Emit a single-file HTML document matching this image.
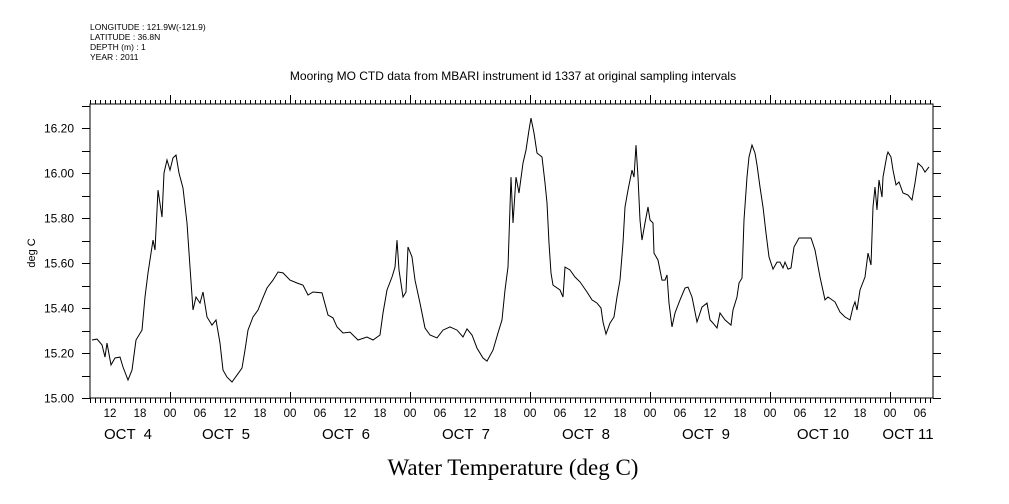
<!DOCTYPE html>
<html><head><meta charset="utf-8">
<style>
html,body{margin:0;padding:0;background:#fff;}
svg{display:block;}
text{font-family:"Liberation Sans",sans-serif;fill:#000;}
</style></head>
<body>
<svg id="chart" width="1009" height="504" viewBox="0 0 1009 504" xmlns="http://www.w3.org/2000/svg">
<g font-size="8.5">
<text x="90" y="30">LONGITUDE : 121.9W(-121.9)</text>
<text x="90" y="40">LATITUDE : 36.8N</text>
<text x="90" y="50">DEPTH (m) : 1</text>
<text x="90" y="60">YEAR : 2011</text>
</g>
<text x="513" y="80" text-anchor="middle" font-size="12">Mooring MO CTD data from MBARI instrument id 1337 at original sampling intervals</text>
<text transform="translate(35,253) rotate(-90)" text-anchor="middle" font-size="11">deg C</text>
<text x="513" y="475" text-anchor="middle" font-size="23" style="font-family:'Liberation Serif',serif">Water Temperature (deg C)</text>
<g id="axes"></g>
<g id="series"></g>
</svg>
<script>
const hours=[-15.6,-14.6,-13.6,-13,-12.6,-11.8,-11,-10,-9.4,-8.4,-7.6,-6.8,-5.6,-5,-4.4,-3.4,-3,-2.4,-1.6,-1.2,-0.6,0,0.6,1.2,1.8,2.6,3.4,4,4.6,5.2,6,6.6,7.4,8.4,9.2,10,10.6,11.4,12.4,13.4,14.4,15,15.6,16.6,17.6,18.4,19.4,20.6,21.6,22.6,24,25.4,26.6,27.6,28.6,30.4,31.6,32.6,33.4,34.6,36,37.6,39.4,40.6,42,42.6,43.4,44.4,45,45.4,45.8,46.6,47.2,47.6,48.4,49,50,51,52,53.4,54.6,56,57.4,58.6,59.4,60.4,61.4,62.6,63.4,64.6,65.6,66.4,67,67.6,68.2,68.6,69.2,69.8,70.6,71.2,71.8,72.2,72.8,73.4,74.4,75,75.4,75.8,76.2,76.6,78,78.6,79,80,81,82,83.4,84.4,85.4,86.2,86.6,87.2,88,88.8,89.4,90,90.6,91,91.6,92.4,92.8,93.2,93.6,94,94.4,95,95.6,96,96.6,96.8,97.6,98.4,99,99.4,99.8,100.4,101,102,103,103.6,104.4,105.4,106.4,107.4,108,108.6,109.4,110,111,112.2,112.6,113.4,113.8,114.4,114.8,115.4,115.8,116.4,117,117.4,118,118.6,119.2,119.8,120.6,121.4,122,122.6,123,123.6,124.2,124.8,125.8,127.4,128.2,129,130,131,131.6,133,134,135,136,136.6,137,137.4,138,139,139.6,140.2,140.6,141,141.4,141.8,142.4,142.6,143.4,143.6,144.2,144.6,145.2,145.8,146.6,147.6,148.4,149,149.6,150.4,151,151.8];
const temps=[15.258,15.262,15.236,15.182,15.244,15.147,15.178,15.182,15.138,15.08,15.124,15.258,15.302,15.449,15.556,15.702,15.658,15.924,15.804,16.0,16.058,16.013,16.067,16.08,16.0,15.933,15.778,15.582,15.391,15.449,15.422,15.471,15.36,15.324,15.347,15.244,15.124,15.093,15.071,15.102,15.133,15.213,15.302,15.36,15.391,15.436,15.489,15.524,15.56,15.556,15.524,15.511,15.502,15.458,15.471,15.467,15.369,15.356,15.316,15.289,15.293,15.258,15.271,15.258,15.28,15.378,15.48,15.538,15.582,15.702,15.569,15.449,15.471,15.671,15.627,15.524,15.422,15.311,15.28,15.267,15.302,15.316,15.302,15.271,15.307,15.28,15.222,15.178,15.164,15.213,15.289,15.347,15.48,15.582,15.982,15.778,15.982,15.911,16.044,16.102,16.191,16.244,16.178,16.089,16.071,15.956,15.867,15.689,15.556,15.502,15.48,15.449,15.582,15.569,15.538,15.516,15.471,15.436,15.422,15.4,15.338,15.284,15.333,15.36,15.449,15.524,15.689,15.849,15.924,16.013,15.982,16.124,15.982,15.791,15.702,15.778,15.849,15.791,15.778,15.644,15.613,15.524,15.524,15.547,15.422,15.316,15.378,15.436,15.489,15.493,15.449,15.338,15.404,15.422,15.347,15.333,15.311,15.378,15.347,15.324,15.391,15.449,15.511,15.533,15.791,15.982,16.071,16.124,16.089,16.036,15.938,15.849,15.733,15.627,15.573,15.604,15.604,15.578,15.604,15.573,15.578,15.671,15.711,15.711,15.711,15.658,15.538,15.436,15.449,15.427,15.382,15.36,15.347,15.404,15.427,15.391,15.48,15.538,15.644,15.591,15.849,15.938,15.836,15.969,15.893,15.982,16.08,16.093,16.071,16.013,15.947,15.96,15.911,15.902,15.88,15.956,16.044,16.027,16.004,16.027];
const yTickLabels=["15.00","15.20","15.40","15.60","15.80","16.00","16.20"];
const hourLabels=["00","06","12","18"];
const dayLabels=["OCT  4","OCT  5","OCT  6","OCT  7","OCT  8","OCT  9","OCT 10","OCT 11"];
const dayLabelHours=[-8.4,11.2,35.2,59.2,83.2,107.2,130.6,147.6];

const L=90,R=933,T=104,B=398;
const H0=-16,H1=152.6;
const Y0=15.0,Y1=16.3067;
const xs=h=>L+(h-H0)/(H1-H0)*(R-L);
const ys=v=>B-(v-Y0)/(Y1-Y0)*(B-T);
const NS="http://www.w3.org/2000/svg";
const axes=document.getElementById('axes');
function mk(tag,attrs,parent){const e=document.createElementNS(NS,tag);for(const k in attrs)e.setAttribute(k,attrs[k]);parent.appendChild(e);return e;}

const frame=mk('rect',{x:L,y:T,width:R-L,height:B-T,fill:'none',stroke:'#000','stroke-width':1,'shape-rendering':'crispEdges'},axes);



for(let i=0;i<=13;i++){
  const v=Y0+i*0.1;const y=Math.round(ys(v))+0.5;
  const tl=mk('line',{x1:L-8,x2:L,y1:y,y2:y,stroke:'#000'},axes);
  
  
  const tr=mk('line',{x1:R,x2:R+8,y1:y,y2:y,stroke:'#000'},axes);
  
  
}
yTickLabels.forEach(s=>{
  const v=parseFloat(s);
  const t=mk('text',{x:74,y:ys(v)+4.5,'text-anchor':'end','font-size':12},axes);
  t.textContent=s;
  
  
});
for(let h=Math.ceil(H0);h<=H1;h++){
  const x=Math.round(xs(h))+0.5;const major=((h%24)+24)%24===0;
  const bt=mk('line',{x1:x,x2:x,y1:major?B-6:B,y2:B+5,stroke:'#000'},axes);
  
  
  const tt=mk('line',{x1:x,x2:x,y1:major?T-9:T-4,y2:T,stroke:'#000'},axes);
  
  
}
for(let h=Math.ceil(H0/6)*6;h<=H1;h+=6){
  const idx=(((h%24)+24)%24)/6;
  const t=mk('text',{x:xs(h),y:417,'text-anchor':'middle','font-size':11.5},axes);
  t.textContent=hourLabels[idx];
  
  
}
dayLabels.forEach((s,i)=>{
  const t=mk('text',{x:xs(dayLabelHours[i]),y:439,'text-anchor':'middle','font-size':15},axes);
  t.setAttribute('style','white-space:pre');
  t.textContent=s;
  
  
});

const series=document.getElementById('series');
const pts=hours.map((h,i)=>xs(h).toFixed(1)+','+ys(temps[i]).toFixed(1)).join(' ');
const line=mk('polyline',{points:pts,fill:'none',stroke:'#000','stroke-width':1},series);


</script>
</body></html>
